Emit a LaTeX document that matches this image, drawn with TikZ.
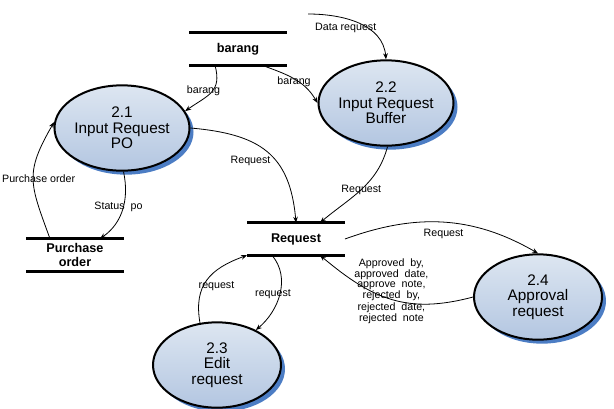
\documentclass[tikz,border=0pt]{standalone}
\usepackage{fontspec}
\setmainfont{Liberation Sans}
\usepackage{xcolor}
\definecolor{bubbleTop}{HTML}{DDE6F1}
\definecolor{bubbleBottom}{HTML}{B3C6E1}
\definecolor{shadowBlue}{HTML}{4C7DC4}
\usepackage{tikz}
\usetikzlibrary{shapes,arrows,positioning,calc,arrows.meta,shadows}
\tikzset{%
  processBubble/.style={%
    ellipse,
    draw=black,
    line width=1.5pt,
    top color=bubbleTop,
    bottom color=bubbleBottom,
    minimum width=96pt,
    minimum height=64pt,
    inner sep=0pt,
    align=center,
    font=\fontsize{11.5}{11.5}\selectfont,
    drop shadow={shadow xshift=3pt,shadow yshift=-3pt,fill=shadowBlue,opacity=1}
  },
  dataStore/.style={%
    rectangle,
    minimum width=73pt,
    minimum height=24pt,
    inner sep=0pt,
    align=center,
    font=\fontsize{9.5}{10}\selectfont\bfseries
  },
  storeLine/.style={%
    line width=2pt
  },
  flowArrow/.style={%
    -{Stealth[length=4.5pt,width=3.5pt]},
    line width=0.6pt
  },
  flowLabel/.style={%
    font=\fontsize{8}{7.2}\selectfont,
    inner sep=1pt,
    align=center
  }
}

\begin{document}
\begin{tikzpicture}[x=0.75pt,y=-0.75pt]
  \useasboundingbox (0,0) rectangle (614,408);

  % processes
  \node[processBubble] (p21) at (122,128) {2.1\\Input Request\\PO};
  \node[processBubble] (p22) at (386,103) {2.2\\Input Request\\Buffer};
  \node[processBubble] (p23) at (217,365) {2.3\\Edit\\request};
  \node[processBubble] (p24) at (538,297) {2.4\\Approval\\request};

  % data stores
  \node[dataStore] (barang) at (238,49) {barang};
  \node[dataStore] (po) at (75,255) {Purchase\\order};
  \node[dataStore] (req) at (296,239) {Request};
  \foreach \s in {barang,po,req} {
    \draw[storeLine] (\s.north west) -- (\s.north east);
    \draw[storeLine] (\s.south west) -- (\s.south east);
  }

  % flows
  \coordinate (dataIn) at (308,14);
  \draw[flowArrow] (dataIn) to[out=0,in=95] node[flowLabel,pos=0.5,xshift=-10pt,yshift=-3pt] {Data request} (p22.north);
  \draw[flowArrow] ($(barang.south)+(-23,0)$) to[out=-75,in=35,looseness=1.3] node[flowLabel,pos=0.45,xshift=-7pt] {barang} (p21.15);
  \draw[flowArrow] ($(barang.south)+(24,0)$) to[out=-20,in=120] node[flowLabel,pos=0.5,yshift=-2pt] {barang} (p22.west);
  \draw[flowArrow] (p21.east) to[out=-5,in=95,looseness=1.25] node[flowLabel,pos=0.6,left=3pt] {Request} (req.north);
  \draw[flowArrow] (p22.-88) to[out=-105,in=40] node[flowLabel,pos=0.5] {Request} ($(req.north)+(24,0)$);
  \draw[flowArrow] ($(po.north)+(-25,0)$) to[out=110,in=240,looseness=1.3] node[flowLabel,pos=0.5,xshift=4pt] {Purchase order} (p21.175);
  \draw[flowArrow] (p21.-88) to[out=-78,in=35] node[flowLabel,pos=0.5,xshift=-3pt,yshift=2pt] {Status~~po} ($(po.north)+(25,0)$);
  \draw[flowArrow] (req.east) to[out=20,in=150] node[flowLabel,pos=0.5,below=4pt] {Request} (p24.north);
  \draw[flowArrow] (p24.west) to[out=195,in=-40,looseness=1.1] node[flowLabel,pos=0.5,yshift=6pt] {Approved~ by,\\approved~ date,\\approve~ note,\\rejected~ by,\\rejected~ date,\\rejected~ note} ($(req.south)+(24,0)$);
  \draw[flowArrow] ($(req.south)+(-24,0)$) to[out=-50,in=40] node[flowLabel,pos=0.5,xshift=-5pt] {request} (p23.42);
  \draw[flowArrow] (p23.112) to[out=100,in=200,looseness=1.2] node[flowLabel,pos=0.4,xshift=10pt] {request} (req.south west);
\end{tikzpicture}
\end{document}
